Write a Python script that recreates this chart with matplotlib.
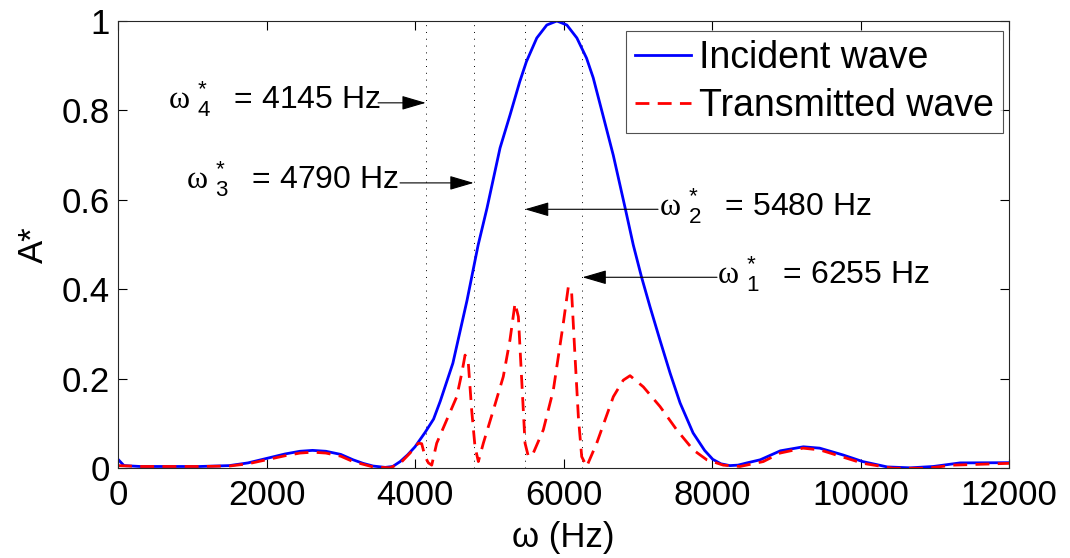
import matplotlib
matplotlib.use("Agg")
from matplotlib import pyplot as plt

# incident wave
inc_freq = [0, 80, 300, 700, 1100, 1500, 1750, 2000, 2250, 2450,
            2620, 2800, 3000, 3165, 3300, 3435, 3600, 3700, 3800, 3900,
            4000, 4135, 4250, 4340, 4510, 4700, 4850, 4970, 5145, 5280,
            5410, 5500, 5640, 5775, 5910, 6045, 6180, 6310, 6400, 6530,
            6670, 6830, 6940, 7050, 7165, 7300, 7435, 7570, 7745, 7900,
            8010, 8120, 8240, 8350, 8470, 8650, 8920, 9230, 9450, 9760,
            10030, 10360, 10670, 10980, 11340, 12000]
inc_amp = [0.02, 0.006, 0.004, 0.004, 0.004, 0.006, 0.012, 0.022, 0.032, 0.038,
           0.040, 0.038, 0.031, 0.019, 0.011, 0.005, 0.002, 0.004, 0.015, 0.03,
           0.048, 0.080, 0.110, 0.150, 0.235, 0.375, 0.499, 0.582, 0.716, 0.79,
           0.864, 0.909, 0.962, 0.991, 1.0, 0.991, 0.962, 0.917, 0.873, 0.79,
           0.70, 0.582, 0.499, 0.428, 0.361, 0.286, 0.213, 0.146, 0.079, 0.040,
           0.020, 0.010, 0.006, 0.007, 0.012, 0.019, 0.039, 0.048, 0.045, 0.030,
           0.015, 0.003, 0.001, 0.004, 0.012, 0.0125]

# transmitted wave
tr_freq = [0, 300, 700, 1100, 1500, 1750, 2000, 2250, 2450, 2620,
           2800, 3000, 3165, 3435, 3663, 3800, 3933, 4045, 4090, 4135,
           4180, 4225, 4292, 4427, 4562, 4629, 4674, 4718, 4763, 4808,
           4853, 4920, 5055, 5189, 5279, 5347, 5392, 5437, 5482, 5527,
           5593, 5728, 5863, 5997, 6065, 6110, 6155, 6200, 6245, 6312,
           6447, 6671, 6805, 6896, 7075, 7300, 7524, 7748, 7929, 8152,
           8377, 8691, 8916, 9226, 9455, 9764, 10034, 10438, 10891, 11246,
           12000]
tr_amp = [0.006, 0.004, 0.004, 0.004, 0.005, 0.010, 0.019, 0.028, 0.034, 0.036,
          0.034, 0.027, 0.015, 0.003, 0.001, 0.011, 0.034, 0.056, 0.055, 0.026,
          0.012, 0.007, 0.056, 0.108, 0.160, 0.212, 0.253, 0.235, 0.130, 0.048,
          0.015, 0.056, 0.130, 0.205, 0.287, 0.369, 0.339, 0.197, 0.056, 0.026,
          0.034, 0.086, 0.175, 0.324, 0.406, 0.391, 0.250, 0.115, 0.026, 0.004,
          0.056, 0.160, 0.197, 0.207, 0.182, 0.138, 0.086, 0.041, 0.019, 0.007,
          0.004, 0.015, 0.034, 0.045, 0.041, 0.025, 0.011, 0.0, 0.0, 0.007,
          0.011]

# marked frequencies
mark_idx = ['4', '3', '2', '1']
mark_freq = [4145, 4790, 5480, 6255]

xticks = [0, 2000, 4000, 6000, 8000, 10000, 12000]
yticks = [0, 0.2, 0.4, 0.6, 0.8, 1]

# arrow layout: (arrow height, tail x in Hz, text left x in Hz)
arrow_y = [0.817, 0.638, 0.579, 0.427]
arrow_tail = [3502, 3798, 7273, 8067]
text_left = [673, 916, 7286, 8067]

plt.rcParams['font.family'] = ['Liberation Sans', 'DejaVu Sans']
plt.rcParams['mathtext.fontset'] = 'custom'
plt.rcParams['mathtext.rm'] = 'Liberation Sans'
plt.rcParams['mathtext.it'] = 'Liberation Serif'
plt.rcParams['mathtext.default'] = 'rm'


def main():
    fig = plt.figure(figsize=(10.7, 5.58), dpi=100)
    ax = fig.add_axes([0.1103, 0.1608, 0.8327, 0.8016])

    for f in mark_freq:
        ax.axvline(f, color='k', lw=0.7, linestyle=(0, (1, 6)))

    ax.plot(inc_freq, inc_amp, color='#0000ff', lw=2, label='Incident wave')
    ax.plot(tr_freq, tr_amp, color='#ff0000', lw=2, linestyle=(0, (5, 3)),
            label='Transmitted wave')

    for i in range(len(mark_freq)):
        ax.annotate('', xy=(mark_freq[i], arrow_y[i]), xytext=(arrow_tail[i], arrow_y[i]),
                    arrowprops=dict(arrowstyle='-|>,head_length=0.75,head_width=0.22',
                                    color='k', lw=0.8, mutation_scale=20,
                                    shrinkA=0, shrinkB=0))
        label = r'$\mathit{\omega}\ {}^{*}_{%s}\;\;$ = %d Hz' % (mark_idx[i], mark_freq[i])
        ax.text(text_left[i], arrow_y[i] - 0.013, label, fontsize=23,
                ha='left', va='baseline', color='k')

    ax.set_xlim(0, 12000)
    ax.set_ylim(0, 1)
    ax.set_xticks(xticks)
    ax.set_yticks(yticks)
    ax.set_yticklabels(['0', '0.2', '0.4', '0.6', '0.8', '1'])
    ax.tick_params(direction='in', top=True, right=True, length=6.5, width=0.8,
                   labelsize=25, colors='k')
    ax.tick_params(axis='x', pad=8)
    ax.tick_params(axis='y', pad=6)
    for s in ax.spines.values():
        s.set_linewidth(0.8)
        s.set_color('#262626')

    ax.set_xlabel('ω (Hz)', fontsize=25, labelpad=6)
    ax.set_ylabel('A*', fontsize=25, labelpad=8)

    leg = ax.legend(loc='upper right', bbox_to_anchor=(1003 / 1070, 1 - 31 / 558),
                    bbox_transform=fig.transFigure, fontsize=27, frameon=True,
                    fancybox=False, borderaxespad=0, borderpad=0.25,
                    handlelength=1.5, handletextpad=0.2, labelspacing=0.3)
    leg.get_frame().set_edgecolor('#262626')
    leg.get_frame().set_linewidth(0.8)

    fig.savefig('out.png', dpi=100)


if __name__ == '__main__':
    main()
